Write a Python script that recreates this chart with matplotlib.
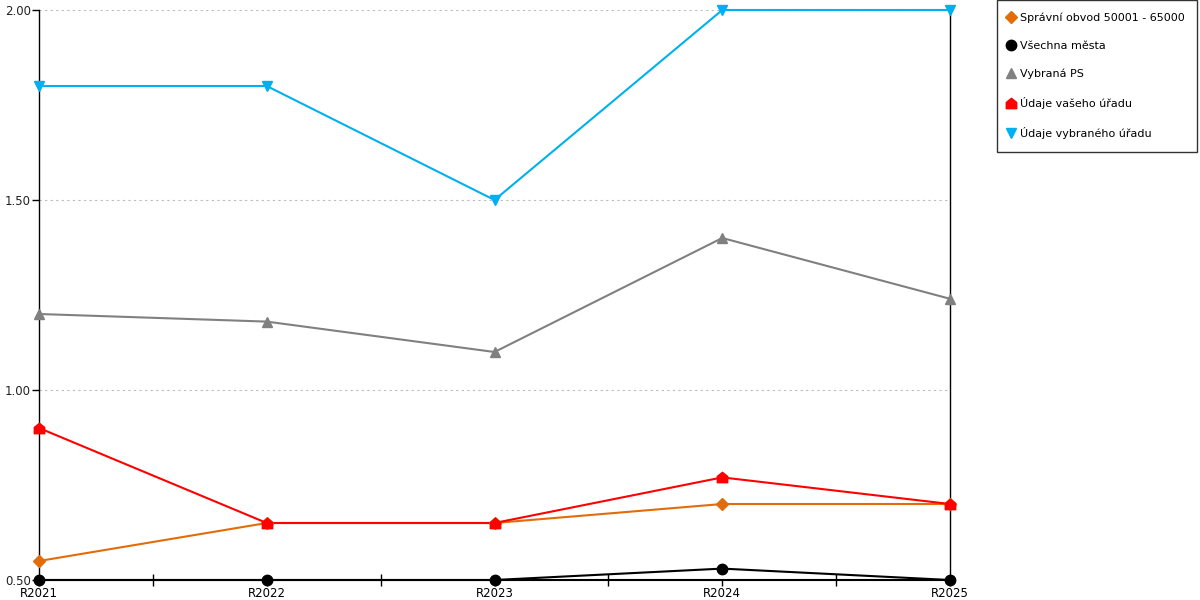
import matplotlib
matplotlib.use("Agg")
import matplotlib.pyplot as plt
from matplotlib.path import Path
from matplotlib.ticker import MultipleLocator, FixedLocator

years = ["R2021", "R2022", "R2023", "R2024", "R2025"]

spravni_obvod = [0.55, 0.65, 0.65, 0.70, 0.70]
vsechna_mesta = [0.50, 0.50, 0.50, 0.53, 0.50]
vybrana_ps = [1.20, 1.18, 1.10, 1.40, 1.24]
vas_urad = [0.90, 0.65, 0.65, 0.77, 0.70]
vybrany_urad = [1.80, 1.80, 1.50, 2.00, 2.00]

# house-shaped marker for "Údaje vašeho úřadu"
house = Path([(-1, -1), (1, -1), (1, 0.2), (0, 1), (-1, 0.2), (-1, -1)],
             [Path.MOVETO, Path.LINETO, Path.LINETO, Path.LINETO, Path.LINETO, Path.CLOSEPOLY])

series = [
    ("Správní obvod 50001 - 65000", spravni_obvod, "#E36C0A", "D", 6),
    ("Všechna města", vsechna_mesta, "#000000", "o", 7.5),
    ("Vybraná PS", vybrana_ps, "#808080", "^", 7.5),
    ("Údaje vašeho úřadu", vas_urad, "#FF0000", house, 7.5),
    ("Údaje vybraného úřadu", vybrany_urad, "#00B0F0", "v", 7.5),
]

plt.rcParams["font.family"] = ["DejaVu Sans"]

fig = plt.figure(figsize=(12, 6), dpi=100)
ax = fig.add_axes([39 / 1200, 20 / 600, (950 - 39) / 1200, 570 / 600])

x = list(range(len(years)))
handles = []
for label, vals, color, marker, ms in series:
    ax.plot(x, vals, color=color, linewidth=1.5, zorder=3, clip_on=False)
    h = ax.plot(x, vals, linestyle="none", marker=marker, markersize=ms, color=color,
                markeredgecolor=color, zorder=4, clip_on=False, label=label)[0]
    handles.append(h)

ax.set_xlim(0, 4)
ax.set_ylim(0.5, 2.0)
ax.yaxis.set_major_locator(MultipleLocator(0.5))
ax.yaxis.set_major_formatter(matplotlib.ticker.FormatStrFormatter("%.2f"))
ax.set_xticks(x)
ax.set_xticklabels(years)
ax.xaxis.set_minor_locator(FixedLocator([0.5, 1.5, 2.5, 3.5]))

ax.grid(axis="y", linestyle=(0, (2, 3)), color="#BBBBBB", linewidth=0.8)
ax.spines["top"].set_visible(False)
for s in ("left", "right", "bottom"):
    ax.spines[s].set_color("black")
    ax.spines[s].set_linewidth(1.0)
ax.spines["bottom"].set_linewidth(1.5)

ax.tick_params(axis="y", direction="out", length=5, width=1, labelsize=8.5, pad=1, colors="black")
ax.tick_params(axis="x", which="major", direction="out", length=4, width=1, labelsize=8.5, pad=1)
ax.tick_params(axis="x", which="minor", direction="inout", length=8, width=1)
for lbl in ax.get_yticklabels():
    lbl.set_color("#222222")

leg = fig.legend(handles=handles, loc="upper left", bbox_to_anchor=(997 / 1200, 1.0),
                 frameon=True, fancybox=False, edgecolor="black", fontsize=8,
                 handlelength=0.3, handletextpad=0.6, labelspacing=1.6,
                 borderpad=1.15, borderaxespad=0)
leg.get_frame().set_linewidth(1.0)

fig.savefig("out.png", dpi=100)
